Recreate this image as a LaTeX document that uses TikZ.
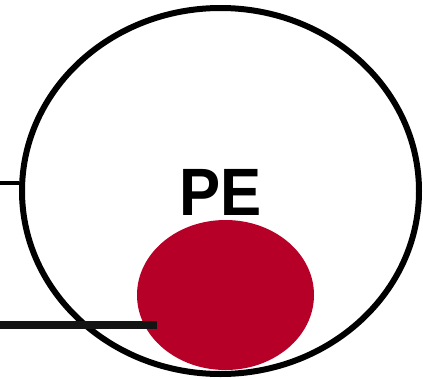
\documentclass[tikz,border=0pt]{standalone}
\usepackage{fontspec}
\setmainfont{Liberation Sans}
\usetikzlibrary{positioning, calc, shapes.geometric}
\definecolor{CoreRed}{HTML}{B70027}
\definecolor{LeadGray}{HTML}{141414}
\tikzset{
  cellbody/.style={ellipse, draw=black, line width=6pt, fill=white, minimum width=397pt, minimum height=366pt, inner sep=0pt},
  corebody/.style={ellipse, fill=CoreRed, minimum width=177pt, minimum height=150pt, inner sep=0pt},
  celllabel/.style={inner sep=0pt, xscale=0.92, font=\fontsize{67}{80}\selectfont\bfseries},
  thinlead/.style={draw=black, line width=4pt},
  thicklead/.style={draw=LeadGray, line width=8pt}
}

\begin{document}
\begin{tikzpicture}[x=1pt, y=-1pt]
\useasboundingbox (0,0) rectangle (423,378);
\node[cellbody] (cell) at (220.5,191) {};
\node[corebody] (core) at (225.5,295) {};
\node[celllabel, anchor=base] (pe) at (220.5,215) {PE};
\coordinate (leadA) at (0,183);
\coordinate (leadB) at (0,325);
\coordinate (leadBend) at (157,325);
\draw[thinlead] (leadA) -- (leadA -| cell.west);
\draw[thicklead] (leadB) -- (leadBend);
\end{tikzpicture}
\end{document}
